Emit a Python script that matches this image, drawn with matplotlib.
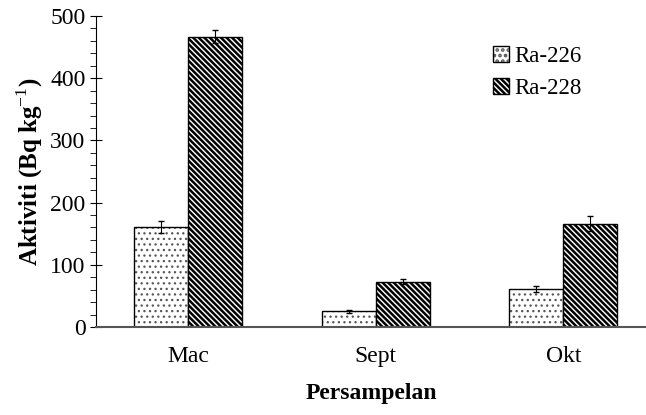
import matplotlib
matplotlib.use('Agg')
import matplotlib.pyplot as plt
import numpy as np
from matplotlib.ticker import MultipleLocator
from matplotlib.legend_handler import HandlerTuple

plt.rcParams['font.family'] = ['Liberation Serif', 'DejaVu Serif']
plt.rcParams['mathtext.fontset'] = 'custom'
plt.rcParams['mathtext.rm'] = 'Liberation Serif'
plt.rcParams['mathtext.bf'] = 'Liberation Serif:bold'
plt.rcParams['hatch.linewidth'] = 1.8

months = ['Mac', 'Sept', 'Okt']
ra226 = [161, 25, 61]
ra226_err = [10, 3, 5]
ra228 = [467, 73, 166]
ra228_err = [10, 4, 12]

fig = plt.figure(figsize=(6.46, 4.15), dpi=100)
ax = fig.add_axes([96 / 646, 88 / 415, 550 / 646, 311 / 415])

x = np.arange(len(months))
w = 0.288
# dotted fill in grey, outline drawn on top in black
dots = ax.bar(x - w / 2, ra226, w, color='white', edgecolor='#555555', hatch='...',
              linewidth=0, hatch_linewidth=0.9)
outline = ax.bar(x - w / 2, ra226, w, fill=False, edgecolor='black', linewidth=1.0)
stripes = ax.bar(x + w / 2, ra228, w, color='white', edgecolor='black',
                 hatch='\\\\\\\\\\\\', linewidth=1.0)
ax.errorbar(x - w / 2, ra226, yerr=ra226_err, fmt='none', ecolor='black',
            elinewidth=0.8, capsize=2.5)
ax.errorbar(x + w / 2, ra228, yerr=ra228_err, fmt='none', ecolor='black',
            elinewidth=0.8, capsize=2.5)

ax.set_ylim(0, 500)
ax.set_xlim(-0.49, 2.44)
ax.yaxis.set_major_locator(MultipleLocator(100))
ax.yaxis.set_minor_locator(MultipleLocator(20))
ax.tick_params(axis='y', which='major', direction='inout', length=8, labelsize=17)
ax.tick_params(axis='y', which='minor', direction='out', length=4)
ax.set_xticks(x)
ax.set_xticklabels(months)
ax.tick_params(axis='x', length=0, labelsize=17, pad=14)

ax.spines['top'].set_visible(False)
ax.spines['right'].set_visible(False)
ax.spines['bottom'].set_color('#555555')
ax.spines['bottom'].set_linewidth(1.5)

ax.set_ylabel('Aktiviti (Bq kg$^{-1}$)', fontsize=18, fontweight='bold', labelpad=4)
ax.set_xlabel('Persampelan', fontsize=17, fontweight='bold', labelpad=11)

ax.legend([(dots[0], outline[0]), stripes[0]], ['Ra-226', 'Ra-228'],
          handler_map={tuple: HandlerTuple(ndivide=1, pad=0)},
          loc='upper left', bbox_to_anchor=(0.685, 0.97), frameon=False,
          fontsize=16.5, handlelength=0.7, handleheight=0.7, handletextpad=0.2,
          labelspacing=0.5)

fig.savefig('out.png', dpi=100)
